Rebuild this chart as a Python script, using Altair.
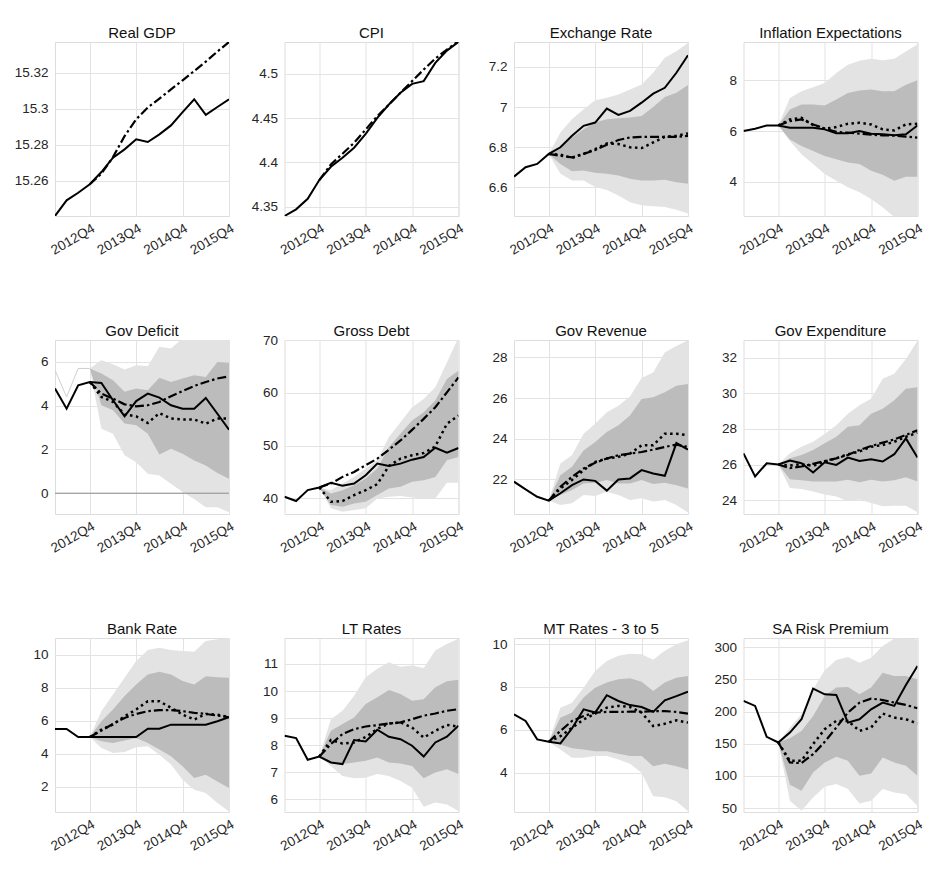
import altair as alt
import pandas as pd

QUARTERS = ["2012Q1", "2012Q2", "2012Q3", "2012Q4", "2013Q1", "2013Q2", "2013Q3", "2013Q4",
            "2014Q1", "2014Q2", "2014Q3", "2014Q4", "2015Q1", "2015Q2", "2015Q3", "2015Q4"]
X_TICK_LABELS = ["2012Q4", "2013Q4", "2014Q4", "2015Q4"]
FC_START = "2012Q4"

# ---------------- Real GDP
gdp_actual = [15.2404, 15.2491, 15.2533, 15.2580, 15.2648, 15.2728, 15.2774, 15.2830,
              15.2815, 15.2857, 15.2907, 15.2981, 15.3052, 15.2965, 15.3009, 15.3052]
gdp_fc = [15.2580, 15.2639, 15.2731, 15.2848, 15.2941, 15.3006, 15.3056, 15.3107,
          15.3157, 15.3209, 15.3261, 15.3317, 15.3370]
gdp_dom = [15.2404, 15.337]
gdp_ticks = [15.26, 15.28, 15.30, 15.32]

# ---------------- CPI
cpi_actual = [4.3395, 4.3470, 4.3590, 4.3801, 4.3951, 4.4053, 4.4166, 4.4323,
              4.4504, 4.4654, 4.4786, 4.4887, 4.4918, 4.5124, 4.5263, 4.5361]
cpi_fc = [4.3801, 4.3978, 4.4098, 4.4222, 4.4372, 4.4523, 4.4654, 4.4786,
          4.4918, 4.5049, 4.5173, 4.5275, 4.5369]
cpi_dom = [4.3395, 4.536]
cpi_ticks = [4.35, 4.40, 4.45, 4.50]

# ---------------- Exchange Rate
ex_actual = [6.654, 6.701, 6.717, 6.767, 6.800, 6.857, 6.907, 6.923,
             6.993, 6.961, 6.981, 7.022, 7.067, 7.096, 7.171, 7.258]
ex_fc = [6.767, 6.758, 6.750, 6.767, 6.786, 6.813, 6.836, 6.849, 6.852, 6.852, 6.852, 6.852, 6.857]
ex_dot = [6.767, 6.763, 6.747, 6.767, 6.791, 6.819, 6.816, 6.800, 6.796, 6.824, 6.852, 6.857, 6.869]
ex_ohi = [6.767, 6.874, 6.940, 6.989, 7.034, 7.047, 7.063, 7.088, 7.113, 7.171, 7.245, 7.278, 7.319]
ex_olo = [6.767, 6.668, 6.635, 6.635, 6.602, 6.588, 6.560, 6.527, 6.511, 6.506, 6.503, 6.489, 6.470]
ex_ihi = [6.767, 6.805, 6.849, 6.890, 6.923, 6.940, 6.945, 6.948, 6.956, 7.001, 7.050, 7.072, 7.110]
ex_ilo = [6.767, 6.717, 6.681, 6.684, 6.673, 6.668, 6.659, 6.643, 6.635, 6.635, 6.638, 6.626, 6.618]
ex_dom = [6.458, 7.324]
ex_ticks = [6.6, 6.8, 7.0, 7.2]

# ---------------- Inflation Expectations
ie_actual = [6.0, 6.09, 6.22, 6.22, 6.13, 6.13, 6.13, 6.065,
             5.91, 5.91, 6.0, 5.895, 5.87, 5.83, 5.87, 6.22]
ie_fc = [6.22, 6.39, 6.456, 6.26, 6.10, 5.97, 5.935, 5.895, 5.857, 5.83, 5.82, 5.78, 5.74]
ie_dot = [6.22, 6.456, 6.52, 6.235, 6.09, 6.156, 6.287, 6.326, 6.26, 6.065, 6.026, 6.26, 6.287]
ie_ohi = [6.22, 7.30, 7.56, 7.72, 7.89, 8.28, 8.61, 8.76, 8.84, 8.78, 8.84, 9.13, 9.41]
ie_olo = [6.22, 5.61, 5.09, 4.70, 4.31, 4.05, 3.79, 3.59, 3.33, 3.0, 2.62, 2.45, 2.3]
ie_ihi = [6.22, 6.85, 7.04, 7.04, 7.0, 7.24, 7.5, 7.59, 7.63, 7.56, 7.56, 7.82, 8.0]
ie_ilo = [6.22, 5.67, 5.41, 5.22, 5.02, 4.89, 4.76, 4.70, 4.44, 4.28, 4.05, 4.20, 4.20]
ie_dom = [2.66, 9.5]
ie_ticks = [4, 6, 8]

# ---------------- Gov Deficit
def_actual = [4.78, 3.86, 4.93, 5.08, 5.04, 4.245, 3.51, 4.21,
              4.55, 4.37, 4.02, 3.86, 3.86, 4.35, 3.63, 2.90]
def_fc = [5.08, 4.55, 4.32, 4.06, 3.97, 4.02, 4.17, 4.43, 4.67, 4.90, 5.08, 5.24, 5.34]
def_dot = [5.08, 4.40, 4.17, 3.60, 3.51, 3.21, 3.66, 3.41, 3.37, 3.37, 3.18, 3.41, 3.41]
def_ohi = [5.70, 6.08, 5.89, 5.65, 5.85, 5.80, 6.69, 6.61, 7.07, 7.3, 7.3, 7.3, 7.3]
def_olo = [5.70, 2.95, 2.72, 1.73, 1.42, 0.89, 0.81, 0.43, 0.05, -0.26, -0.64, -0.64, -0.87]
def_ihi = [5.70, 5.47, 5.16, 4.63, 4.78, 4.70, 5.28, 5.08, 5.24, 5.39, 5.31, 6.0, 5.96]
def_ilo = [5.70, 4.02, 3.79, 3.18, 3.10, 2.72, 1.77, 2.03, 1.80, 1.50, 1.27, 0.92, 0.66]
def_thin = [5.62, 4.40, 5.70, 5.70]
def_dom = [-0.95, 7.0]
def_ticks = [0, 2, 4, 6]

# ---------------- Gross Debt
debt_actual = [40.31, 39.5, 41.57, 42.07, 42.95, 42.39, 42.82, 44.39,
               46.59, 46.15, 46.59, 47.34, 47.85, 49.6, 48.66, 49.54]
debt_fc = [42.07, 42.82, 44.08, 45.02, 46.28, 47.53, 49.23, 50.98, 52.99, 55.07, 57.26, 60.09, 62.91]
debt_dot = [42.07, 39.37, 39.5, 40.63, 41.57, 42.70, 46.15, 47.53, 48.16, 48.6, 49.86, 54.12, 55.69]
debt_ohi = [42.07, 41.57, 42.82, 44.08, 45.65, 47.22, 51.61, 54.44, 57.26, 58.83, 61.03, 65.74, 70.5]
debt_olo = [42.07, 38.12, 37.49, 37.8, 38.12, 40.0, 40.31, 40.44, 40.19, 40.0, 40.0, 42.95, 42.95]
debt_ihi = [42.07, 40.94, 41.57, 42.51, 43.77, 45.65, 49.73, 52.24, 54.75, 56.32, 58.52, 62.6, 64.17]
debt_ilo = [42.07, 38.74, 38.43, 39.06, 39.37, 40.63, 41.88, 42.2, 43.14, 43.45, 44.08, 47.22, 47.85]
debt_dom = [37.05, 70.0]
debt_ticks = [40, 50, 60, 70]

# ---------------- Gov Revenue
rev_actual = [21.89, 21.51, 21.15, 20.96, 21.32, 21.72, 22.0, 21.93,
              21.45, 22.0, 22.05, 22.46, 22.29, 22.18, 23.79, 23.47]
rev_fc = [20.96, 21.64, 22.13, 22.54, 22.82, 23.03, 23.19, 23.27, 23.35, 23.47, 23.6, 23.71, 23.6]
rev_dot = [20.96, 21.56, 21.97, 22.46, 22.86, 23.03, 23.11, 23.27, 23.68, 23.68, 24.25, 24.25, 24.17]
rev_ohi = [20.96, 22.78, 23.19, 24.25, 24.74, 25.31, 25.63, 26.08, 26.99, 27.26, 28.24, 28.57, 28.85]
rev_olo = [20.96, 20.74, 20.83, 21.23, 21.19, 21.40, 21.23, 20.99, 21.07, 20.91, 20.99, 20.74, 20.37]
rev_ihi = [20.96, 22.21, 22.62, 23.43, 23.84, 24.33, 24.66, 25.15, 25.96, 26.04, 26.29, 26.61, 26.69]
rev_ilo = [20.96, 21.23, 21.48, 21.80, 21.84, 21.97, 21.8, 21.8, 21.97, 21.77, 21.84, 21.72, 21.56]
rev_dom = [20.3, 28.86]
rev_ticks = [22, 24, 26, 28]

# ---------------- Gov Expenditure
exp_actual = [26.63, 25.33, 26.07, 26.0, 26.22, 26.07, 25.55, 26.13,
              25.98, 26.39, 26.20, 26.30, 26.17, 26.58, 27.47, 26.39]
exp_fc = [26.0, 25.80, 25.89, 26.04, 26.2, 26.35, 26.54, 26.82, 27.04, 27.23, 27.41, 27.66, 27.93]
exp_dot = [26.0, 25.94, 26.02, 25.93, 26.17, 26.35, 26.58, 26.73, 27.0, 27.1, 27.28, 27.56, 27.79]
exp_ohi = [26.0, 26.63, 27.0, 27.28, 27.71, 28.21, 28.86, 29.33, 29.70, 30.82, 31.1, 31.93, 32.96]
exp_olo = [26.0, 24.68, 24.62, 24.49, 24.31, 24.21, 23.94, 24.03, 23.84, 23.66, 23.69, 23.69, 23.32]
exp_ihi = [26.0, 26.35, 26.54, 26.82, 27.19, 27.56, 28.12, 28.21, 28.86, 29.14, 29.61, 30.26, 30.35]
exp_ilo = [26.0, 25.18, 25.11, 25.05, 25.05, 25.05, 25.14, 25.0, 25.14, 25.05, 25.11, 25.29, 25.05]
exp_dom = [23.22, 33.0]
exp_ticks = [24, 26, 28, 30, 32]

# ---------------- Bank Rate
bank_actual = [5.49, 5.49, 5.0, 5.0, 5.0, 5.0, 5.0, 5.0,
               5.5, 5.5, 5.75, 5.75, 5.75, 5.75, 5.96, 6.2]
bank_fc = [5.0, 5.39, 5.80, 6.16, 6.40, 6.57, 6.63, 6.63, 6.57, 6.47, 6.40, 6.30, 6.2]
bank_dot = [5.0, 5.45, 5.76, 6.26, 6.67, 7.17, 7.17, 6.77, 6.36, 6.06, 6.40, 6.36, 6.2]
bank_ohi = [5.0, 6.57, 7.58, 8.59, 9.6, 10.27, 10.41, 10.27, 10.21, 10.17, 10.82, 10.92, 11.0]
bank_olo = [5.0, 4.34, 4.04, 4.10, 4.38, 4.44, 3.93, 3.33, 2.42, 1.81, 1.61, 1.0, 0.49]
bank_ihi = [5.0, 5.96, 6.67, 7.48, 8.19, 8.79, 8.96, 8.79, 8.39, 8.19, 8.69, 8.63, 8.59]
bank_ilo = [5.0, 4.74, 4.64, 4.79, 4.95, 4.64, 4.24, 3.83, 3.23, 2.52, 2.72, 2.31, 1.91]
bank_dom = [0.46, 11.0]
bank_ticks = [2, 4, 6, 8, 10]

# ---------------- LT Rates
lt_actual = [8.35, 8.26, 7.46, 7.58, 7.36, 7.30, 8.19, 8.14,
             8.57, 8.31, 8.22, 7.98, 7.58, 8.10, 8.31, 8.72]
lt_fc = [7.58, 8.04, 8.41, 8.59, 8.69, 8.74, 8.80, 8.84, 8.96, 9.09, 9.17, 9.27, 9.33]
lt_dot = [7.58, 8.19, 8.06, 8.10, 8.30, 8.60, 8.80, 8.84, 8.65, 8.28, 8.53, 8.75, 8.68]
lt_ohi = [7.58, 8.96, 9.27, 9.83, 10.51, 10.82, 11.06, 10.90, 10.94, 10.85, 11.50, 11.74, 11.93]
lt_olo = [7.58, 7.23, 6.86, 6.78, 6.80, 6.93, 6.86, 6.68, 6.43, 5.72, 5.88, 5.81, 5.57]
lt_ihi = [7.58, 8.53, 8.78, 9.02, 9.52, 9.77, 10.04, 9.89, 9.64, 9.70, 10.14, 10.36, 10.42]
lt_ilo = [7.58, 7.36, 7.30, 7.36, 7.42, 7.54, 7.36, 7.32, 7.23, 6.78, 6.99, 7.11, 6.93]
lt_dom = [5.53, 11.96]
lt_ticks = [6, 7, 8, 9, 10, 11]

# ---------------- MT Rates - 3 to 5
mt_actual = [6.72, 6.41, 5.55, 5.44, 5.36, 6.06, 6.95, 6.80,
             7.61, 7.34, 7.15, 7.06, 6.83, 7.37, 7.57, 7.78]
mt_fc = [5.44, 5.94, 6.41, 6.64, 6.80, 6.83, 6.83, 6.84, 6.84, 6.87, 6.87, 6.83, 6.75]
mt_dot = [5.44, 5.70, 6.09, 6.48, 6.75, 7.03, 7.11, 7.06, 6.80, 6.17, 6.28, 6.44, 6.33]
mt_ohi = [5.44, 7.03, 7.26, 7.96, 8.74, 9.21, 9.45, 9.55, 9.52, 9.26, 9.68, 9.99, 10.18]
mt_olo = [5.44, 5.08, 4.69, 4.69, 4.77, 4.77, 4.61, 4.41, 3.99, 2.90, 2.85, 2.66, 2.20]
mt_ihi = [5.44, 6.56, 6.80, 7.50, 7.96, 8.20, 8.35, 8.40, 8.24, 7.81, 8.20, 8.43, 8.51]
mt_ilo = [5.44, 5.31, 5.13, 5.08, 5.0, 5.0, 4.88, 4.77, 4.77, 4.30, 4.41, 4.30, 4.14]
mt_dom = [2.16, 10.28]
mt_ticks = [4, 6, 8, 10]

# ---------------- SA Risk Premium
sa_actual = [216.6, 208.8, 160.7, 151.9, 167.4, 188.1, 235.7, 226.9,
             225.9, 182.9, 188.1, 203.6, 214.0, 208.8, 241.4, 270.9]
sa_fc = [151.9, 120.8, 119.8, 133.7, 152.9, 175.2, 198.4, 214.0, 220.2, 218.1, 214.0, 210.4, 205.2]
sa_dot = [151.9, 123.4, 123.4, 149.3, 172.6, 185.5, 185.5, 170.0, 175.2, 196.9, 190.7, 188.1, 181.4]
sa_ohi = [151.9, 175.2, 195.9, 234.7, 264.2, 280.2, 284.9, 276.1, 283.9, 302.0, 313.9, 314.0, 312.3]
sa_olo = [151.9, 61.3, 45.8, 66.5, 83.0, 87.2, 79.4, 57.1, 61.3, 79.4, 74.2, 71.6, 53.5]
sa_ihi = [151.9, 158.6, 170.0, 193.3, 224.3, 237.3, 238.3, 226.9, 237.3, 260.6, 255.4, 255.4, 250.2]
sa_ilo = [151.9, 86.1, 76.8, 105.3, 120.8, 129.6, 123.4, 100.1, 103.7, 128.6, 120.8, 115.6, 100.1]
sa_dom = [43.8, 314.5]
sa_ticks = [50, 100, 150, 200, 250, 300]

# ---------------- styling
FONT = "Liberation Sans"
OUTER = "#e3e3e3"
INNER = "#bcbcbc"
GRID = "#e3e3e3"
LABEL = "#262626"
PW, PH = 174, 174
LABEL_SIZE = 13.5
TITLE_GAP = 1

START = QUARTERS.index(FC_START)
LABEL_EXPR = "[" + ",".join("'%s'" % q for q in QUARTERS) + "][datum.value]"
X_TICK_POS = [QUARTERS.index(q) for q in X_TICK_LABELS]


def x_enc():
    return alt.X("x:Q", scale=alt.Scale(domain=[0, len(QUARTERS) - 1], nice=False, zero=False),
                 axis=alt.Axis(values=X_TICK_POS, labelExpr=LABEL_EXPR, title=None, grid=True,
                               ticks=False, tickSize=0, domain=False, labelAngle=330,
                               labelAlign="right", labelBaseline="top", labelPadding=5,
                               labelFontSize=LABEL_SIZE, labelColor=LABEL, labelFont=FONT,
                               gridColor=GRID, labelOverlap=False))


def y_enc(field, dom, ticks):
    return alt.Y(field + ":Q", scale=alt.Scale(domain=dom, nice=False, zero=False),
                 axis=alt.Axis(values=ticks, format=".6~g", title=None, ticks=False, tickSize=0,
                               domain=False, labelPadding=7, labelFontSize=LABEL_SIZE,
                               labelColor=LABEL, labelFont=FONT, gridColor=GRID,
                               minExtent=41, maxExtent=41, labelOverlap=False))


def series(vals, start):
    return pd.DataFrame({"x": list(range(start, start + len(vals))), "v": vals})


def band(lo, hi):
    return pd.DataFrame({"x": list(range(START, START + len(lo))), "lo": lo, "hi": hi})


def panel(title, dom, ticks, actual, fc, dot=None, olo=None, ohi=None, ilo=None, ihi=None,
          thin=None, zero=False):
    layers = []
    if olo is not None:
        layers.append(alt.Chart(band(olo, ohi)).mark_area(color=OUTER, clip=True, opacity=1)
                      .encode(x=x_enc(), y=y_enc("lo", dom, ticks), y2="hi:Q"))
        layers.append(alt.Chart(band(ilo, ihi)).mark_area(color=INNER, clip=True, opacity=1)
                      .encode(x=x_enc(), y=y_enc("lo", dom, ticks), y2="hi:Q"))
    if zero:
        layers.append(alt.Chart(pd.DataFrame({"v": [0]})).mark_rule(color="#8c8c8c", strokeWidth=1)
                      .encode(y=y_enc("v", dom, ticks)))
    if thin is not None:
        layers.append(alt.Chart(series(thin, 0)).mark_line(color="#cfcfcf", strokeWidth=1, clip=True)
                      .encode(x=x_enc(), y=y_enc("v", dom, ticks)))
    if dot is not None:
        layers.append(alt.Chart(series(dot, START)).mark_line(color="black", strokeWidth=2.5,
                                                             strokeDash=[2.5, 3.5], clip=True)
                      .encode(x=x_enc(), y=y_enc("v", dom, ticks)))
    layers.append(alt.Chart(series(fc, START)).mark_line(color="black", strokeWidth=2.2,
                                                        strokeDash=[9, 3, 2.5, 3], clip=True)
                  .encode(x=x_enc(), y=y_enc("v", dom, ticks)))
    layers.append(alt.Chart(series(actual, 0)).mark_line(color="black", strokeWidth=2, clip=True)
                  .encode(x=x_enc(), y=y_enc("v", dom, ticks)))
    # a top tick label that sticks out above the plot pushes the title up; compensate
    top_gap = (dom[1] - max(ticks)) / (dom[1] - dom[0]) * PH
    overflow = max(0.0, LABEL_SIZE / 2 - top_gap)
    return alt.layer(*layers).properties(
        width=PW, height=PH,
        title=alt.TitleParams(title, fontSize=15, font=FONT, fontWeight="normal", color="#111111",
                              offset=TITLE_GAP - overflow, frame="group"))


panels = [
    panel("Real GDP", gdp_dom, gdp_ticks, gdp_actual, gdp_fc),
    panel("CPI", cpi_dom, cpi_ticks, cpi_actual, cpi_fc),
    panel("Exchange Rate", ex_dom, ex_ticks, ex_actual, ex_fc, ex_dot, ex_olo, ex_ohi, ex_ilo, ex_ihi),
    panel("Inflation Expectations", ie_dom, ie_ticks, ie_actual, ie_fc, ie_dot, ie_olo, ie_ohi, ie_ilo, ie_ihi),
    panel("Gov Deficit", def_dom, def_ticks, def_actual, def_fc, def_dot, def_olo, def_ohi, def_ilo, def_ihi,
          thin=def_thin, zero=True),
    panel("Gross Debt", debt_dom, debt_ticks, debt_actual, debt_fc, debt_dot, debt_olo, debt_ohi, debt_ilo, debt_ihi),
    panel("Gov Revenue", rev_dom, rev_ticks, rev_actual, rev_fc, rev_dot, rev_olo, rev_ohi, rev_ilo, rev_ihi),
    panel("Gov Expenditure", exp_dom, exp_ticks, exp_actual, exp_fc, exp_dot, exp_olo, exp_ohi, exp_ilo, exp_ihi),
    panel("Bank Rate", bank_dom, bank_ticks, bank_actual, bank_fc, bank_dot, bank_olo, bank_ohi, bank_ilo, bank_ihi),
    panel("LT Rates", lt_dom, lt_ticks, lt_actual, lt_fc, lt_dot, lt_olo, lt_ohi, lt_ilo, lt_ihi),
    panel("MT Rates - 3 to 5", mt_dom, mt_ticks, mt_actual, mt_fc, mt_dot, mt_olo, mt_ohi, mt_ilo, mt_ihi),
    panel("SA Risk Premium", sa_dom, sa_ticks, sa_actual, sa_fc, sa_dot, sa_olo, sa_ohi, sa_ilo, sa_ihi),
]

rows = [alt.hconcat(*panels[i * 4:(i + 1) * 4], spacing=55.5, bounds="flush") for i in range(3)]
chart = (alt.vconcat(*rows, spacing=65)
         .properties(padding={"left": 5, "top": 17, "right": 5, "bottom": 5})
         .configure_view(stroke="#999999", strokeWidth=1)
         .configure_title(fontWeight="normal")
         .configure(background="white"))

chart.save("out.html", embed_options={"renderer": "svg", "actions": False})
